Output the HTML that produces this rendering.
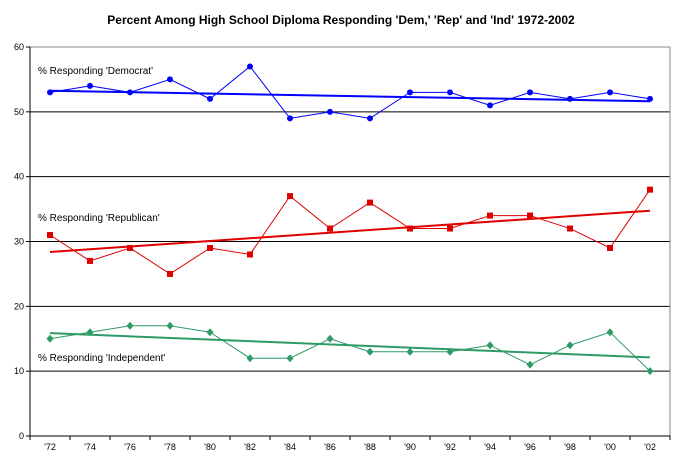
<!DOCTYPE html>
<html><head><meta charset="utf-8">
<style>
body{margin:0;background:#fff;}
svg{display:block;font-family:"Liberation Sans",sans-serif;}
</style></head>
<body>
<svg id="chart" width="683" height="467"></svg>
<script>
const years=["'72","'74","'76","'78","'80","'82","'84","'86","'88","'90","'92","'94","'96","'98","'00","'02"];
const dem=[53,54,53,55,52,57,49,50,49,53,53,51,53,52,53,52];
const rep=[31,27,29,25,29,28,37,32,36,32,32,34,34,32,29,38];
const ind=[15,16,17,17,16,12,12,15,13,13,13,14,11,14,16,10];
const yTicks=[0,10,20,30,40,50,60];

const svg=document.getElementById('chart');
const NS='http://www.w3.org/2000/svg';
const L=30,R=670,T=47,B=436;
const step=(R-L)/years.length;
const x=i=>L+step*(i+0.5);
const y=v=>B-(v/60)*(B-T);
function mk(tag,attrs,parent){const e=document.createElementNS(NS,tag);for(const k in attrs)e.setAttribute(k,attrs[k]);(parent||svg).appendChild(e);return e;}

const title=mk('text',{x:341,y:24,'text-anchor':'middle','font-size':12,'font-weight':'bold'});


title.textContent="Percent Among High School Diploma Responding 'Dem,' 'Rep' and 'Ind' 1972-2002";

yTicks.forEach(t=>{
  if(t>0&&t<60){const g=mk('line',{x1:L,x2:R,y1:y(t),y2:y(t),stroke:'#000','stroke-width':1});
  
  }
  const tk=mk('line',{x1:L-4,x2:L,y1:y(t),y2:y(t),stroke:'#000'});
  
  
  const lb=mk('text',{x:L-6,y:y(t)+3,'text-anchor':'end','font-size':9});
  
  
  lb.textContent=t;
});
const tp=mk('line',{x1:L,x2:R,y1:T,y2:T,stroke:'#888'});


const rt=mk('line',{x1:R,x2:R,y1:T,y2:B,stroke:'#888'});


const ya=mk('line',{x1:L,x2:L,y1:T,y2:B,stroke:'#000'});


const xa=mk('line',{x1:L,x2:R,y1:B,y2:B,stroke:'#000'});


for(let i=0;i<=years.length;i++){
  const tk=mk('line',{x1:L+step*i,x2:L+step*i,y1:B,y2:B+4,stroke:'#000'});
  
  
}
years.forEach((yr,i)=>{
  const lb=mk('text',{x:x(i),y:B+14,'text-anchor':'middle','font-size':9});
  
  
  lb.textContent=yr;
});

function trend(d){
  const n=d.length;let sx=0,sy=0,sxy=0,sxx=0;
  d.forEach((v,i)=>{sx+=i;sy+=v;sxy+=i*v;sxx+=i*i;});
  const b=(n*sxy-sx*sy)/(n*sxx-sx*sx);const a=(sy-b*sx)/n;
  return [a,a+b*(n-1)];
}
function series(d,color,name,marker){
  const tr=trend(d);
  const tl=mk('line',{x1:x(0),x2:x(d.length-1),y1:y(tr[0]),y2:y(tr[1]),stroke:color,'stroke-width':2});
  
  
  const pl=mk('polyline',{points:d.map((v,i)=>x(i)+','+y(v)).join(' '),fill:'none',stroke:color,'stroke-width':1});
  
  
  d.forEach((v,i)=>{
    let m;
    if(marker==='circle')m=mk('circle',{cx:x(i),cy:y(v),r:3,fill:color});
    else if(marker==='square')m=mk('rect',{x:x(i)-3,y:y(v)-3,width:6,height:6,fill:color});
    else m=mk('polygon',{points:`${x(i)},${y(v)-4} ${x(i)+3.5},${y(v)} ${x(i)},${y(v)+4} ${x(i)-3.5},${y(v)}`,fill:color});
    
    
  });
}
series(dem,'#0000ff','democrat','circle');
series(rep,'#e00000','republican','square');
series(ind,'#2e9a66','independent','diamond');

[["% Responding 'Democrat'",74,'label-democrat'],["% Responding 'Republican'",221,'label-republican'],["% Responding 'Independent'",361,'label-independent']].forEach(([t,yy,n])=>{
  const e=mk('text',{x:38,y:yy,'font-size':10});
  
  
  e.textContent=t;
});
</script>
</body></html>
